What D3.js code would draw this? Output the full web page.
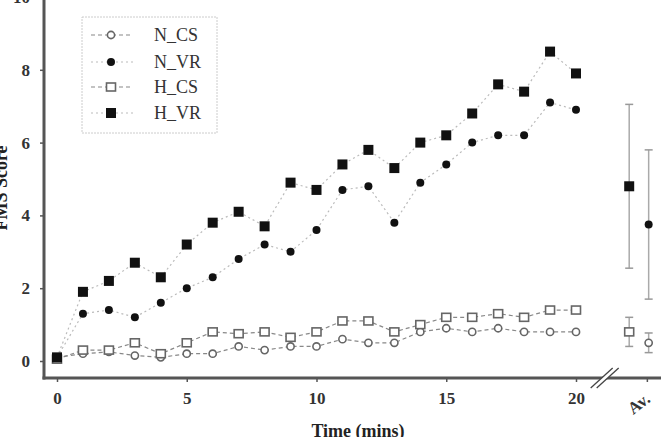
<!DOCTYPE html>
<html>
<head>
<style>
  body { margin: 0; background: #fff; }
  svg { display: block; font-family: "Liberation Serif", "DejaVu Serif", serif; }
</style>
</head>
<body>
<div id="container"></div>
<script src="https://cdn.jsdelivr.net/npm/d3@7"></script>
<script>
// minutes 0..20
const minutes = d3.range(0, 21);
const seriesNames = ["N_CS", "N_VR", "H_CS", "H_VR"];
const nCS = [0.1, 0.2, 0.25, 0.15, 0.1, 0.2, 0.2, 0.4, 0.3, 0.4, 0.4, 0.6, 0.5, 0.5, 0.8, 0.9, 0.8, 0.9, 0.8, 0.8, 0.8];
const nVR = [0.1, 1.3, 1.4, 1.2, 1.6, 2.0, 2.3, 2.8, 3.2, 3.0, 3.6, 4.7, 4.8, 3.8, 4.9, 5.4, 6.0, 6.2, 6.2, 7.1, 6.9];
const hCS = [0.05, 0.3, 0.3, 0.5, 0.2, 0.5, 0.8, 0.75, 0.8, 0.65, 0.8, 1.1, 1.1, 0.8, 1.0, 1.2, 1.2, 1.3, 1.2, 1.4, 1.4];
const hVR = [0.1, 1.9, 2.2, 2.7, 2.3, 3.2, 3.8, 4.1, 3.7, 4.9, 4.7, 5.4, 5.8, 5.3, 6.0, 6.2, 6.8, 7.6, 7.4, 8.5, 7.9];
// averages with error (±)
const avgMean = [0.5, 3.75, 0.8, 4.8];
const avgErr = [0.27, 2.05, 0.4, 2.25];
const yTicks = [0, 2, 4, 6, 8, 10];
const xTicks = [0, 5, 10, 15, 20];
const avgLabel = "Av.";

const W = 661, H = 437;
const svg = d3.select("#container").append("svg")
    .attr("width", W).attr("height", H);

const x = d3.scaleLinear().domain([0, 20]).range([57, 576]);
const y = d3.scaleLinear().domain([0, 10]).range([361, -3]);
const avgTick = 22.75;
const avgPos = [22.8, 22.8, 22.05, 22.05]; // H series drawn a bit left of the tick

const axisCol = "#555";

// error bars for averages
const avgG = svg.append("g");
avgMean.forEach((m, i) => {
    const cx = x(avgPos[i]);
    avgG.append("line")
        .attr("x1", cx).attr("x2", cx)
        .attr("y1", y(m - avgErr[i])).attr("y2", y(m + avgErr[i]))
        .attr("stroke", "#aaa").attr("stroke-width", 1.5);
    [m - avgErr[i], m + avgErr[i]].forEach(v => {
        avgG.append("line")
            .attr("x1", cx - 4).attr("x2", cx + 4)
            .attr("y1", y(v)).attr("y2", y(v))
            .attr("stroke", "#999").attr("stroke-width", 1.5);
    });
});

const allData = [nCS, nVR, hCS, hVR];
const lineStyle = [
    { stroke: "#888", dash: "4,3" },
    { stroke: "#bbb", dash: "2,3" },
    { stroke: "#888", dash: "4,3" },
    { stroke: "#bbb", dash: "2,3" }
];

function drawMarker(g, i, cx, cy) {
    if (i === 0) {
        g.append("circle").attr("cx", cx).attr("cy", cy).attr("r", 3.6)
            .attr("fill", "#fff").attr("stroke", "#666").attr("stroke-width", 1.6);
    } else if (i === 1) {
        g.append("circle").attr("cx", cx).attr("cy", cy).attr("r", 4)
            .attr("fill", "#111");
    } else if (i === 2) {
        g.append("rect").attr("x", cx - 4.5).attr("y", cy - 4).attr("width", 9).attr("height", 8)
            .attr("fill", "#fff").attr("stroke", "#666").attr("stroke-width", 1.6);
    } else {
        g.append("rect").attr("x", cx - 5).attr("y", cy - 5).attr("width", 10).attr("height", 10)
            .attr("fill", "#111");
    }
}

const line = d3.line().x((d, i) => x(minutes[i])).y(d => y(d));
allData.forEach((vals, i) => {
    svg.append("path").datum(vals)
        .attr("d", line)
        .attr("fill", "none")
        .attr("stroke", lineStyle[i].stroke)
        .attr("stroke-width", 1.2)
        .attr("stroke-dasharray", lineStyle[i].dash);
});
allData.forEach((vals, i) => {
    const g = svg.append("g");
    vals.forEach((v, j) => drawMarker(g, i, x(minutes[j]), y(v)));
    drawMarker(g, i, x(avgPos[i]), y(avgMean[i]));
});

// axes
const yAxis = svg.append("g")
    .attr("transform", "translate(44,0)")
    .call(d3.axisLeft(y).tickValues(yTicks).tickSize(4).tickPadding(10).tickSizeOuter(0));
yAxis.select(".domain").remove();

const xAxis = svg.append("g")
    .attr("transform", "translate(0,378)")
    .call(d3.axisBottom(x).tickValues(xTicks).tickSize(4).tickPadding(10).tickSizeOuter(0));
xAxis.select(".domain").remove();

[yAxis, xAxis].forEach(a => {
    a.selectAll(".tick line").attr("stroke", axisCol).attr("stroke-width", 1.5);
    a.selectAll(".tick text")
        .attr("font-family", "Liberation Serif, serif")
        .attr("font-size", 17).attr("font-weight", "bold").attr("fill", "#333");
});

svg.append("line").attr("x1", 44).attr("x2", 44).attr("y1", 0).attr("y2", 379.5)
    .attr("stroke", axisCol).attr("stroke-width", 3);
svg.append("line").attr("x1", 42.5).attr("x2", W).attr("y1", 378).attr("y2", 378)
    .attr("stroke", axisCol).attr("stroke-width", 3);

// Av. tick and label
svg.append("line").attr("x1", x(avgTick)).attr("x2", x(avgTick)).attr("y1", 378).attr("y2", 382)
    .attr("stroke", axisCol).attr("stroke-width", 1.5);
svg.append("text")
    .attr("transform", `translate(${x(avgTick) + 4},${401}) rotate(-38)`)
    .attr("text-anchor", "end")
    .attr("font-size", 17).attr("font-weight", "bold").attr("fill", "#333")
    .text(avgLabel);

// axis break
const bx = (x(20) + x(avgTick)) / 2 - 5;
svg.append("polygon")
    .attr("points", `${bx - 16},${388} ${bx - 10},${388} ${bx + 12},${368} ${bx + 6},${368}`)
    .attr("fill", "#fff");
[-1, 1].forEach(k => {
    svg.append("line")
        .attr("x1", bx - 13 + k * 3).attr("y1", 388)
        .attr("x2", bx + 9 + k * 3).attr("y2", 368)
        .attr("stroke", "#444").attr("stroke-width", 1.3);
});

// axis titles
svg.append("text")
    .attr("x", 358).attr("y", 437)
    .attr("text-anchor", "middle")
    .attr("font-size", 18).attr("font-weight", "bold").attr("fill", "#222")
    .text("Time (mins)");
svg.append("text")
    .attr("transform", "translate(7,188) rotate(-90)")
    .attr("text-anchor", "middle")
    .attr("font-size", 18).attr("font-weight", "bold").attr("fill", "#222")
    .text("FMS Score");

// legend
const legend = svg.append("g");
legend.append("rect")
    .attr("x", 82).attr("y", 17).attr("width", 135).attr("height", 116)
    .attr("fill", "#fff").attr("stroke", "#ccc").attr("stroke-width", 1)
    .attr("stroke-dasharray", "2,1");
const legY = [35, 62, 87, 113];
seriesNames.forEach((name, i) => {
    legend.append("line")
        .attr("x1", 91).attr("x2", 133).attr("y1", legY[i]).attr("y2", legY[i])
        .attr("stroke", lineStyle[i].stroke).attr("stroke-width", 1.2)
        .attr("stroke-dasharray", lineStyle[i].dash);
    drawMarker(legend, i, 111, legY[i]);
    legend.append("text")
        .attr("x", 154).attr("y", legY[i] + 6)
        .attr("font-size", 18).attr("fill", "#333")
        .text(name);
});
</script>
</body>
</html>
